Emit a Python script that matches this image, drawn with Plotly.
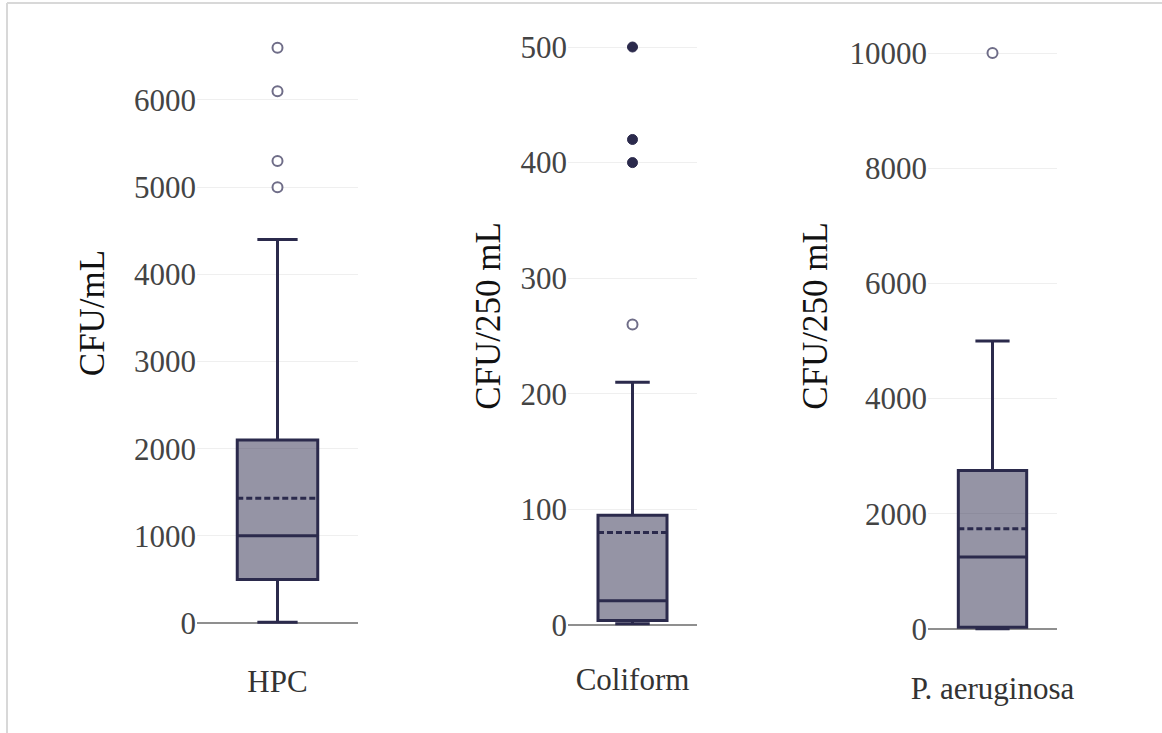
import plotly.graph_objects as go

W, H = 1162, 733

# ---- data ----
categories = ["HPC", "Coliform", "P. aeruginosa"]
y_titles = ["CFU/mL", "CFU/250 mL", "CFU/250 mL"]
q1 = [500, 4, 30]
median = [1000, 21, 1250]
q3 = [2100, 95, 2750]
mean = [1430, 80, 1740]
lowerfence = [10, 1, 5]
upperfence = [4400, 210, 5000]
outliers_hpc = [5000, 5300, 6100, 6600]
outliers_coliform = [260, 400, 420, 500]
outliers_paer = [10000]
outliers = [outliers_hpc, outliers_coliform, outliers_paer]
ticks_hpc = [0, 1000, 2000, 3000, 4000, 5000, 6000]
ticks_coliform = [0, 100, 200, 300, 400, 500]
ticks_paer = [0, 2000, 4000, 6000, 8000, 10000]
tick_sets = [ticks_hpc, ticks_coliform, ticks_paer]

# ---- layout geometry (pixels) ----
x_dom_px = [(197, 358), (568, 697), (928, 1057)]
y_dom_px = [(0, 626), (0, 632), (0, 632)]       # (top, bottom)
zero_px = [623, 625, 629]
unit_px = [87.17 / 1000, 1.156, 57.6 / 1000]     # pixels per data unit
box_width = [0.5, 0.535, 0.53]
label_standoff = [34, 26, 35]
title_standoff = [18, 9, 11]

LINE = "#2b2a4c"
FILL = "rgba(43,42,76,0.5)"
OPEN_LINE = "#6f6d88"
FONT = "Liberation Serif"

fig = go.Figure()
layout = dict(
    width=W, height=H, margin=dict(l=0, r=0, t=0, b=0, autoexpand=False),
    paper_bgcolor="white", plot_bgcolor="white", showlegend=False,
    font=dict(family=FONT, color="#444444"),
)

for i, cat in enumerate(categories):
    n = "" if i == 0 else str(i + 1)
    xa, ya = "x" + n, "y" + n
    fig.add_trace(go.Box(
        x=[cat], q1=[q1[i]], median=[median[i]], q3=[q3[i]], mean=[mean[i]],
        lowerfence=[lowerfence[i]], upperfence=[upperfence[i]],
        boxpoints=False, width=box_width[i], whiskerwidth=0.5,
        line=dict(color=LINE, width=3), fillcolor=FILL,
        xaxis=xa, yaxis=ya, hoverinfo="skip",
    ))
    # outliers: suspected (beyond 4*Q3-3*Q1) drawn filled, others open
    thr = 4 * q3[i] - 3 * q1[i]
    norm = [v for v in outliers[i] if v <= thr]
    susp = [v for v in outliers[i] if v > thr]
    if norm:
        fig.add_trace(go.Scatter(
            x=[cat] * len(norm), y=norm, mode="markers", xaxis=xa, yaxis=ya,
            marker=dict(symbol="circle", size=10, color="white",
                        line=dict(color=OPEN_LINE, width=2)),
        ))
    if susp:
        fig.add_trace(go.Scatter(
            x=[cat] * len(susp), y=susp, mode="markers", xaxis=xa, yaxis=ya,
            marker=dict(symbol="circle", size=10, color=LINE,
                        line=dict(color=LINE, width=1)),
        ))

    top, bot = y_dom_px[i]
    r0 = -(bot - zero_px[i]) / unit_px[i]
    r1 = (zero_px[i] - top) / unit_px[i]
    layout["xaxis" + n] = dict(
        domain=[x_dom_px[i][0] / W, x_dom_px[i][1] / W],
        anchor=ya, type="category", showgrid=False, zeroline=False,
        showline=False, ticks="", range=[-0.5, 0.5], automargin=False,
        ticklabelstandoff=label_standoff[i],
        tickfont=dict(family=FONT, size=31, color="#333333"),
    )
    layout["yaxis" + n] = dict(
        domain=[1 - bot / H, 1 - top / H], anchor=xa,
        range=[r0, r1], tickmode="array", tickvals=tick_sets[i],
        ticktext=[str(v) for v in tick_sets[i]],
        showgrid=True, gridcolor="#efefef", gridwidth=1,
        zeroline=True, zerolinecolor="#8f8f8f", zerolinewidth=2,
        showline=False, ticks="", automargin=False,
        tickfont=dict(family=FONT, size=31, color="#444444"),
        title=dict(text=y_titles[i], standoff=title_standoff[i],
                   font=dict(family=FONT, size=35, color="#111111")),
    )

layout["shapes"] = [
    dict(type="line", xref="paper", yref="paper", x0=7 / W, x1=1.0,
         y0=1 - 3 / H, y1=1 - 3 / H, line=dict(color="#d8d8d8", width=2)),
    dict(type="line", xref="paper", yref="paper", x0=7 / W, x1=7 / W,
         y0=0, y1=1 - 3 / H, line=dict(color="#d8d8d8", width=2)),
]

fig.update_layout(**layout)
fig.write_html("out.html")
